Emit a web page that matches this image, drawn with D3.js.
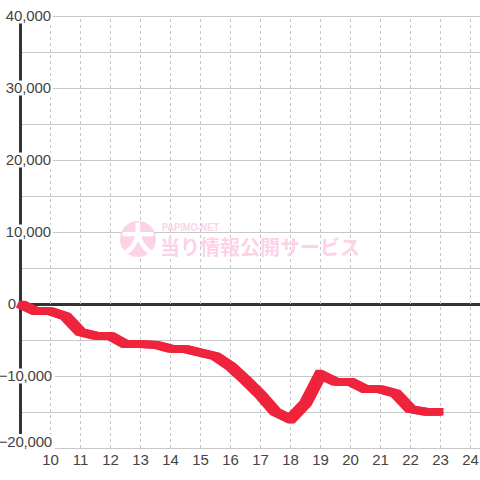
<!DOCTYPE html>
<html>
<head>
<meta charset="utf-8">
<script src="https://cdn.jsdelivr.net/npm/d3@7"></script>
<style>
  html, body { margin: 0; padding: 0; background: #fff; }
  text { font-family: "Liberation Sans", Arial, sans-serif; }
</style>
</head>
<body>
<div id="chart"></div>
<script>
var hours = [9, 9.5, 10, 10.5, 11, 11.5, 12, 12.5, 13, 13.5, 14, 14.5, 15, 15.5, 16, 16.5, 17, 17.5, 18, 18.5, 19, 19.5, 20, 20.5, 21, 21.5, 22, 22.5, 23];
var balance = [0, -1000, -1000, -1700, -3900, -4400, -4450, -5600, -5600, -5650, -6200, -6250, -6750, -7250, -8650, -10550, -12600, -15000, -16000, -13800, -9800, -10800, -10800, -11850, -11850, -12400, -14600, -14950, -14950];
var xTicks = [10, 11, 12, 13, 14, 15, 16, 17, 18, 19, 20, 21, 22, 23, 24];
var yGridTicks = [40000, 35000, 30000, 25000, 20000, 15000, 10000, 5000, 0, -5000, -10000, -15000, -20000];
var yLabelTicks = [40000, 30000, 20000, 10000, 0, -10000, -20000];

var svgWidth = 480;
var svgHeight = 480;

var svg = d3.select("#chart")
  .append("svg")
  .attr("width", svgWidth)
  .attr("height", svgHeight)
  .style("display", "block");

var xScale = d3.scaleLinear().domain([9, 24]).range([20.5, 470.5]);
var yScale = d3.scaleLinear().domain([40000, -20000]).range([16, 448]);

// horizontal grid
var yGrid = svg.append("g")
  .attr("transform", "translate(480, 0)")
  .call(d3.axisLeft(yScale).tickValues(yGridTicks).tickSize(460).tickFormat(""));
yGrid.select(".domain").remove();
yGrid.selectAll("line").attr("stroke", "#c8c8c8").attr("stroke-width", 1);
yGrid.selectAll(".tick").filter(d => d === 0).select("line")
  .attr("stroke", "#333").attr("stroke-width", 3);

// vertical dotted grid, offset 0 keeps the lines on a pixel
var xGrid = svg.append("g")
  .attr("transform", "translate(0, 448)")
  .call(d3.axisTop(xScale).tickValues(xTicks).tickSize(432).tickFormat("").offset(0));
xGrid.select(".domain").remove();
xGrid.selectAll("line")
  .attr("stroke", "#c4c4c4")
  .attr("stroke-width", 1)
  .attr("stroke-dasharray", "3,3");

// watermark
var mark = svg.append("g");
mark.append("circle").attr("cx", 138).attr("cy", 239).attr("r", 18).attr("fill", "#fcd3e6");
mark.append("text").attr("x", 138).attr("y", 252).attr("text-anchor", "middle")
  .attr("font-size", 34).attr("font-weight", "bold").attr("fill", "#fff")
  .style("font-family", "'Noto Sans CJK JP'").text("大");
mark.append("text").attr("x", 162).attr("y", 231)
  .attr("font-size", 10).attr("font-weight", "bold").attr("fill", "#fcd3e6")
  .attr("textLength", 57).attr("lengthAdjust", "spacingAndGlyphs").text("PAPIMO-NET");
mark.append("text").attr("x", 160).attr("y", 255)
  .attr("font-size", 20).attr("font-weight", "bold").attr("fill", "#fcd3e6")
  .style("font-family", "'Noto Sans CJK JP'").text("当り情報公開サービス");

// y axis bar
svg.append("line")
  .attr("x1", 20.5).attr("x2", 20.5)
  .attr("y1", yScale(40000)).attr("y2", yScale(-20000))
  .attr("stroke", "#333").attr("stroke-width", 3);

// y labels with white box behind, they cut the axis and grid
var yLabels = svg.append("g")
  .attr("transform", "translate(51, 0)")
  .call(d3.axisLeft(yScale).tickValues(yLabelTicks).tickSize(0).tickPadding(0).tickFormat(d3.format(",")));
yLabels.select(".domain").remove();
yLabels.selectAll("text")
  .attr("fill", "#444")
  .attr("font-size", 15)
  .style("font-family", "'Liberation Sans', Arial, sans-serif")
  .attr("letter-spacing", d => d < 0 ? -0.2 : -0.1)
  .attr("dx", d => d === 0 ? -35 : (d < 0 ? 1 : 0));
// bottom label sits higher so it clears the "10" under it
yLabels.selectAll(".tick").filter(d => d === -20000)
  .attr("transform", "translate(0," + (yScale(-20000) - 6) + ")");
yLabels.selectAll(".tick").each(function() {
  var t = d3.select(this).select("text");
  var b = t.node().getBBox();
  var dx = +t.attr("dx") || 0;
  d3.select(this).insert("rect", "text")
    .attr("x", b.x + dx - 1)
    .attr("y", -8)
    .attr("width", b.width + 3)
    .attr("height", 15)
    .attr("fill", "#fff");
});

// x labels
var xLabels = svg.append("g")
  .attr("transform", "translate(0, 448)")
  .call(d3.axisBottom(xScale).tickValues(xTicks).tickSize(0).tickPadding(6).offset(0));
xLabels.select(".domain").remove();
xLabels.selectAll("text")
  .attr("fill", "#444")
  .attr("font-size", 15)
  .style("font-family", "'Liberation Sans', Arial, sans-serif");

// balance line, the reference pen is wider sideways than it is tall
var line = d3.line()
  .x((d, i) => xScale(hours[i]))
  .y(d => yScale(d));

svg.selectAll("path.balance")
  .data([-3, -1.5, 0, 1.5, 3])
  .enter()
  .append("path")
  .attr("class", "balance")
  .attr("transform", d => `translate(${d}, 0)`)
  .attr("d", line(balance))
  .attr("fill", "none")
  .attr("stroke", "#ef233c")
  .attr("stroke-width", 7.5)
  .attr("stroke-linejoin", "miter");
</script>
</body>
</html>
